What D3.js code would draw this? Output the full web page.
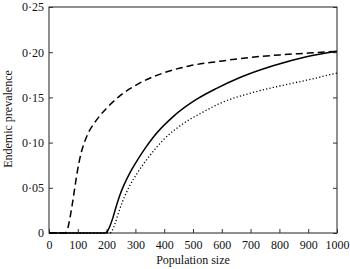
<!DOCTYPE html>
<html>
<head>
<meta charset="utf-8">
<script src="https://cdn.jsdelivr.net/npm/d3@7"></script>
<style>
  body { margin: 0; background: #fff; }
  svg text { font-family: "Liberation Serif", "Times New Roman", serif; fill: #111; }
</style>
</head>
<body>
<div id="chart"></div>
<script>
// population size, endemic prevalence pairs
const dashedSeries = [[0,0],[55,0],[62,0.002],[70,0.012],[80,0.030],[90,0.051],[100,0.071],[112,0.089],[125,0.102],
  [140,0.113],[156,0.121],[180,0.131],[206,0.140],[247,0.152],[316,0.166],[397,0.177],[490,0.185],[594,0.190],
  [692,0.194],[800,0.197],[900,0.199],[1000,0.201]];
const solidSeries = [[0,0],[195,0],[203,0.002],[212,0.008],[222,0.017],[232,0.028],[245,0.041],[260,0.053],[280,0.066],
  [300,0.077],[330,0.092],[362,0.106],[432,0.129],[513,0.148],[582,0.160],[663,0.172],[778,0.185],[894,0.195],[1000,0.201]];
const dottedSeries = [[0,0],[212,0],[220,0.003],[230,0.011],[242,0.023],[258,0.037],[280,0.052],[310,0.068],[351,0.086],
  [397,0.103],[466,0.121],[536,0.134],[605,0.145],[692,0.154],[778,0.161],[894,0.169],[1000,0.177]];
const xTicks = [0,100,200,300,400,500,600,700,800,900,1000];
const yTicks = [0,0.05,0.10,0.15,0.20,0.25];

const width = 350, height = 269;
const margins = {top: 7, right: 13, bottom: 36, left: 49};

const svg = d3.select("#chart").append("svg")
  .attr("width", width).attr("height", height);

const xScale = d3.scaleLinear().domain([0, 1000]).range([margins.left, width - margins.right]);
const yScale = d3.scaleLinear().domain([0, 0.25]).range([height - margins.bottom, margins.top]);

const fmtY = d => d === 0 ? "0" : d3.format(".2f")(d).replace(".", "·");

// axes, ticks pointing inward
const xAxis = d3.axisBottom(xScale).tickValues(xTicks).tickFormat(d3.format("d"))
  .tickSizeInner(-4).tickSizeOuter(0).tickPadding(7);
const yAxis = d3.axisLeft(yScale).tickValues(yTicks).tickFormat(fmtY).tickSizeInner(-4).tickSizeOuter(0).tickPadding(5);
const yRight = d3.axisRight(yScale).tickValues(yTicks).tickFormat("").tickSizeInner(-4).tickSizeOuter(0);

const xGroup = svg.append("g").attr("transform", `translate(0,${height - margins.bottom})`).call(xAxis);
const yGroup = svg.append("g").attr("transform", `translate(${margins.left},0)`).call(yAxis);
const rGroup = svg.append("g").attr("transform", `translate(${width - margins.right},0)`).call(yRight);

[xGroup, yGroup, rGroup].forEach(g => {
  g.select(".domain").remove();
  g.selectAll("line").attr("stroke", "#333");
  g.selectAll("text").style("font-size", "12px").attr("fill", "#111");
});

// frame
svg.append("rect")
  .attr("x", margins.left).attr("y", margins.top)
  .attr("width", width - margins.left - margins.right)
  .attr("height", height - margins.top - margins.bottom)
  .attr("fill", "none").attr("stroke", "#333").attr("stroke-width", 1.1);

const line = d3.line()
  .x(d => xScale(d[0]))
  .y(d => yScale(d[1]))
  .curve(d3.curveMonotoneX);

svg.append("path").datum(dashedSeries).attr("d", line)
  .attr("fill", "none").attr("stroke", "#000").attr("stroke-width", 1.5)
  .attr("stroke-dasharray", "7,4");
svg.append("path").datum(solidSeries).attr("d", line)
  .attr("fill", "none").attr("stroke", "#000").attr("stroke-width", 1.5);
svg.append("path").datum(dottedSeries).attr("d", line)
  .attr("fill", "none").attr("stroke", "#000").attr("stroke-width", 1.3)
  .attr("stroke-dasharray", "1.2,2.2");

// axis titles
svg.append("text")
  .attr("x", (margins.left + width - margins.right) / 2)
  .attr("y", height - 5)
  .attr("text-anchor", "middle")
  .style("font-size", "12px")
  .text("Population size");

svg.append("text")
  .attr("transform", "rotate(-90)")
  .attr("x", -119)
  .attr("y", 12)
  .attr("text-anchor", "middle")
  .style("font-size", "12px")
  .text("Endemic prevalence");
</script>
</body>
</html>
